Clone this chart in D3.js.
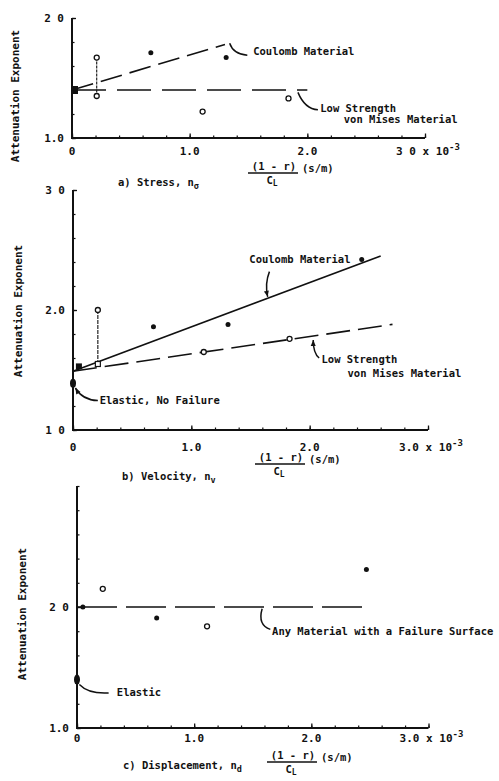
<!DOCTYPE html>
<html>
<head>
<meta charset="utf-8">
<script src="https://cdn.jsdelivr.net/npm/d3@7"></script>
<style>
  html, body { margin: 0; padding: 0; background: #fff; }
  svg { display: block; }
  text { font-family: "DejaVu Sans Mono", "Liberation Mono", monospace; font-weight: bold; fill: #111; }
</style>
</head>
<body>
<svg id="chart" width="499" height="781"></svg>
<script>
// ---------- DATA ----------
const xTickValues = [0, 1, 2, 3];
const xMinorStep = 0.2;
const yMinorStep = 0.2;

// Panel a) Stress
const aXTickLabels = ["0", "1.0", "2.0", "3 0"];
const aYTickValues = [1, 2];
const aYTickLabels = ["1.0", "2 0"];
const aCoulombLine = [[0, 1.40], [1.30, 1.78]];
const aVonMisesLine = [[0, 1.40], [2.00, 1.40]];
const aFilled = [[0.67, 1.71], [1.31, 1.67]];
const aOpen = [[0.21, 1.67], [0.21, 1.35], [1.11, 1.22], [1.84, 1.33]];
const aConnector = [[0.21, 1.67], [0.21, 1.35]];
const aElastic = [0, 1.40];

// Panel b) Velocity
const bXTickLabels = ["0", "1.0", "2.0", "3.0"];
const bYTickValues = [1, 2, 3];
const bYTickLabels = ["1 0", "2.0", "3 0"];
const bCoulombLine = [[0, 1.49], [2.60, 2.45]];
const bVonMisesLine = [[0, 1.49], [2.70, 1.88]];
const bFilled = [[0.68, 1.86], [1.31, 1.88], [2.44, 2.42]];
const bFilledSquare = [[0.05, 1.53]];
const bOpen = [[0.21, 2.00], [1.105, 1.65], [1.83, 1.76]];
const bOpenSquare = [[0.21, 1.55]];
const bConnector = [[0.21, 2.00], [0.21, 1.55]];
const bElastic = [0, 1.39];

// Panel c) Displacement
const cXTickLabels = ["0", "1.0", "2.0", "3.0"];
const cYTickValues = [1, 2];
const cYTickLabels = ["1.0", "2 0"];
const cAnyLine = [[0, 2.0], [2.46, 2.0]];
const cFilled = [[0.05, 2.00], [0.68, 1.91], [2.47, 2.31]];
const cOpen = [[0.22, 2.15], [1.11, 1.84]];
const cElastic = [0, 1.40];

// ---------- DRAW ----------
const svg = d3.select("#chart");

function panel(cfg) {
  const x = d3.scaleLinear().domain([0, 3]).range(cfg.xr);
  const y = d3.scaleLinear().domain([1, cfg.ymax]).range(cfg.yr);
  const g = svg.append("g");
  const line = d3.line().x(d => x(d[0])).y(d => y(d[1]));

  const xMinor = d3.range(0, 3.0001, xMinorStep);
  g.append("g").attr("transform", `translate(0,${y(1)})`)
    .call(d3.axisBottom(x).tickValues(xMinor).tickSize(-2.5).tickSizeOuter(0).tickFormat(""))
    .call(s => s.select(".domain").remove())
    .call(s => s.selectAll("line").attr("stroke", "#111").attr("stroke-width", 1.2));
  g.append("g").attr("transform", `translate(0,${y(1)})`)
    .call(d3.axisBottom(x).tickValues(xTickValues).tickSize(-4.5).tickSizeOuter(0).tickFormat(""))
    .call(s => s.select(".domain").remove())
    .call(s => s.selectAll("line").attr("stroke", "#111").attr("stroke-width", 1.3));
  const yMinor = d3.range(1, cfg.ymax + 0.0001, yMinorStep);
  g.append("g").attr("transform", `translate(${x(0)},0)`)
    .call(d3.axisLeft(y).tickValues(yMinor).tickSize(-2.5).tickSizeOuter(0).tickFormat(""))
    .call(s => s.select(".domain").remove())
    .call(s => s.selectAll("line").attr("stroke", "#111").attr("stroke-width", 1.2));
  g.append("g").attr("transform", `translate(${x(0)},0)`)
    .call(d3.axisLeft(y).tickValues(cfg.yTicks).tickSize(-4).tickSizeOuter(0).tickFormat(""))
    .call(s => s.select(".domain").remove())
    .call(s => s.selectAll("line").attr("stroke", "#111").attr("stroke-width", 1.3));

  g.append("path").attr("d", line([[0, cfg.ymax], [0, 1], [3, 1]]))
    .attr("fill", "none").attr("stroke", "#111").attr("stroke-width", 2);

  xTickValues.forEach((v, i) => {
    const last = i === xTickValues.length - 1;
    const t = g.append("text").attr("x", x(v)).attr("y", y(1) + cfg.xLabOff)
      .attr("font-size", 11).attr("text-anchor", "middle").attr("dx", last ? 3 : 0);
    t.append("tspan").text(cfg.xLabels[i]);
    if (last) {
      t.append("tspan").text(" x 10");
      t.append("tspan").attr("dy", -5).attr("font-size", 9).text("-3");
    }
  });
  cfg.yTicks.forEach((v, i) => {
    g.append("text").attr("x", x(0) - 8).attr("y", y(v) + 4)
      .attr("font-size", 11).attr("text-anchor", "end").text(cfg.yLabels[i]);
  });
  g.append("text").attr("transform", `translate(${cfg.titleX},${cfg.titleY}) rotate(-90)`)
    .attr("text-anchor", "middle").attr("font-size", 11).text("Attenuation Exponent");

  return { g, x, y, line };
}

function drawLine(p, data, dash, w) {
  p.g.append("path").attr("d", p.line(data)).attr("fill", "none")
    .attr("stroke", "#111").attr("stroke-width", w || 1.6)
    .attr("stroke-dasharray", dash || null);
}
function drawFilled(p, data, r) {
  p.g.selectAll(null).data(data).enter().append("circle")
    .attr("cx", d => p.x(d[0])).attr("cy", d => p.y(d[1])).attr("r", r || 2.5).attr("fill", "#111");
}
function drawOpen(p, data) {
  p.g.selectAll(null).data(data).enter().append("circle")
    .attr("cx", d => p.x(d[0])).attr("cy", d => p.y(d[1])).attr("r", 2.5)
    .attr("fill", "#fff").attr("stroke", "#111").attr("stroke-width", 1.3);
}
function drawElastic(p, d, rx, ry) {
  p.g.append("ellipse").attr("cx", p.x(d[0])).attr("cy", p.y(d[1]))
    .attr("rx", rx).attr("ry", ry).attr("fill", "#111");
}
function leader(p, pts, arrow) {
  const path = d3.path();
  const P = pts.map(d => [p.x(d[0]), p.y(d[1])]);
  path.moveTo(P[0][0], P[0][1]);
  path.quadraticCurveTo(P[1][0], P[1][1], P[2][0], P[2][1]);
  p.g.append("path").attr("d", path.toString()).attr("fill", "none")
    .attr("stroke", "#111").attr("stroke-width", 1.5);
  if (arrow) {
    const a = P[0], b = P[1];
    const ang = Math.atan2(a[1] - b[1], a[0] - b[0]);
    const L = 6, W = 2.5;
    const pts2 = [
      [a[0], a[1]],
      [a[0] - L * Math.cos(ang) + W * Math.sin(ang), a[1] - L * Math.sin(ang) - W * Math.cos(ang)],
      [a[0] - L * Math.cos(ang) - W * Math.sin(ang), a[1] - L * Math.sin(ang) + W * Math.cos(ang)]
    ];
    p.g.append("polygon").attr("points", pts2.map(q => q.join(",")).join(" ")).attr("fill", "#111");
  }
}
function label(p, d, txt, size) {
  p.g.append("text").attr("x", p.x(d[0])).attr("y", p.y(d[1]))
    .attr("font-size", size || 10.5).text(txt);
}
function caption(x0, y0, prefix, sub, fx, fy) {
  const t = svg.append("text").attr("x", x0).attr("y", y0).attr("font-size", 10.5);
  t.append("tspan").text(prefix);
  t.append("tspan").attr("dy", 3).attr("font-size", 8.5).text(sub);
  svg.append("text").attr("x", fx).attr("y", fy).attr("text-anchor", "middle")
    .attr("font-size", 10.5).text("(1 - r)");
  svg.append("line").attr("x1", fx - 26).attr("x2", fx + 24).attr("y1", fy + 3).attr("y2", fy + 3)
    .attr("stroke", "#111").attr("stroke-width", 1.5);
  const c = svg.append("text").attr("x", fx - 2).attr("y", fy + 14).attr("text-anchor", "middle").attr("font-size", 10.5);
  c.append("tspan").text("C");
  c.append("tspan").attr("dy", 2).attr("font-size", 8).text("L");
  svg.append("text").attr("x", fx + 28).attr("y", fy + 2).attr("font-size", 10.5).text("(s/m)");
}

// ---- Panel a ----
const pa = panel({ xr: [72, 425], yr: [138, 18], ymax: 2, yTicks: aYTickValues, yLabels: aYTickLabels,
  xLabels: aXTickLabels, xLabOff: 17, titleX: 19, titleY: 96 });
drawLine(pa, aCoulombLine, "22,8");
drawLine(pa, aVonMisesLine, "34,11");
drawLine(pa, aConnector, "3,1", 1.1);
drawFilled(pa, aFilled);
drawOpen(pa, aOpen);
pa.g.append("rect").attr("x", pa.x(aElastic[0]) - 1).attr("y", pa.y(aElastic[1]) - 4)
  .attr("width", 7).attr("height", 8).attr("fill", "#111");
leader(pa, [[1.34, 1.79], [1.37, 1.70], [1.49, 1.69]], false);
leader(pa, [[1.92, 1.38], [1.98, 1.24], [2.09, 1.235]], false);
label(pa, [1.54, 1.69], "Coulomb Material");
label(pa, [2.11, 1.215], "Low Strength");
label(pa, [2.31, 1.125], "von Mises Material");
caption(118, 186, "a)  Stress, n", "σ", 274, 170);

// ---- Panel b ----
const pb = panel({ xr: [73, 428], yr: [430, 190], ymax: 3, yTicks: bYTickValues, yLabels: bYTickLabels,
  xLabels: bXTickLabels, xLabOff: 21, titleX: 22, titleY: 311 });
drawLine(pb, bCoulombLine, null, 1.7);
drawLine(pb, bVonMisesLine, "24,8");
drawLine(pb, bConnector, "4,1", 1.1);
drawFilled(pb, bFilled);
pb.g.selectAll(null).data(bFilledSquare).enter().append("rect")
  .attr("x", d => pb.x(d[0]) - 3).attr("y", d => pb.y(d[1]) - 3).attr("width", 6).attr("height", 6).attr("fill", "#111");
drawOpen(pb, bOpen);
pb.g.selectAll(null).data(bOpenSquare).enter().append("rect")
  .attr("x", d => pb.x(d[0]) - 2.5).attr("y", d => pb.y(d[1]) - 2.5).attr("width", 5).attr("height", 5)
  .attr("fill", "#fff").attr("stroke", "#111").attr("stroke-width", 1.2);
drawElastic(pb, bElastic, 3, 4.5);
leader(pb, [[1.645, 2.11], [1.62, 2.22], [1.66, 2.32]], true);
leader(pb, [[2.03, 1.75], [2.03, 1.64], [2.08, 1.60]], true);
leader(pb, [[0.02, 1.35], [0.08, 1.25], [0.21, 1.245]], true);
label(pb, [1.49, 2.39], "Coulomb Material");
label(pb, [2.10, 1.555], "Low Strength");
label(pb, [2.32, 1.445], "von Mises Material");
label(pb, [0.225, 1.22], "Elastic, No Failure");
caption(122, 480, "b)  Velocity, n", "v", 281, 461);

// ---- Panel c ----
const pc = panel({ xr: [77, 428.5], yr: [728, 486], ymax: 3, yTicks: cYTickValues, yLabels: cYTickLabels,
  xLabels: cXTickLabels, xLabOff: 14, titleX: 26, titleY: 614 });
drawLine(pc, cAnyLine, "40,9");
drawFilled(pc, cFilled);
drawOpen(pc, cOpen);
drawElastic(pc, cElastic, 3, 5);
leader(pc, [[1.58, 1.985], [1.54, 1.85], [1.65, 1.815]], false);
leader(pc, [[0.02, 1.36], [0.10, 1.28], [0.27, 1.29]], false);
label(pc, [1.665, 1.77], "Any Material with a Failure Surface");
label(pc, [0.34, 1.265], "Elastic");
caption(123, 769, "c)  Displacement, n", "d", 293, 759);
</script>
</body>
</html>
